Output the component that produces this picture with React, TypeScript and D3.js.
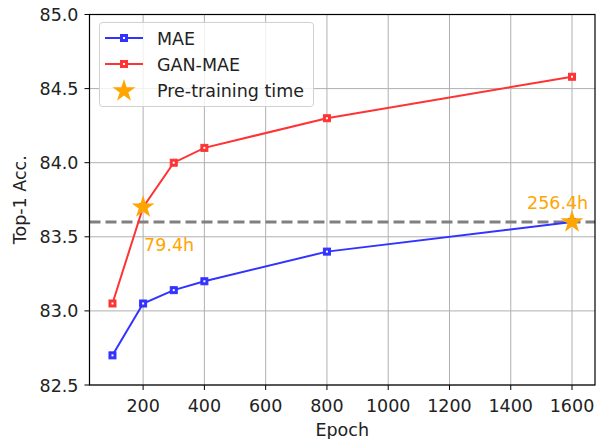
import React from "react";
import * as d3 from "d3";

const epochs = [100, 200, 300, 400, 800, 1600];
const maeAcc = [82.7, 83.05, 83.14, 83.2, 83.4, 83.6];
const ganMaeAcc = [83.05, 83.7, 84.0, 84.1, 84.3, 84.58];
const xTicks = [200, 400, 600, 800, 1000, 1200, 1400, 1600];
const yTicks = [82.5, 83.0, 83.5, 84.0, 84.5, 85.0];
const starPoints = [
  { epoch: 200, acc: 83.7, label: "79.4h" },
  { epoch: 1600, acc: 83.6, label: "256.4h" },
];
const refLine = 83.6;
const legendItems = ["MAE", "GAN-MAE", "Pre-training time"];

const W = 600, H = 439;
const L = 89.5, R = 595, T = 14.5, B = 385;
const BLUE = "#3333ff", RED = "#ff3333", ORANGE = "#ffa500";
const FONT = "DejaVu Sans, sans-serif";
const FS = 17.5;

function starPath(cx: number, cy: number, r: number) {
  const pts: string[] = [];
  const ri = r * 0.382;
  for (let i = 0; i < 10; i++) {
    const a = -Math.PI / 2 + (i * Math.PI) / 5;
    const rr = i % 2 === 0 ? r : ri;
    pts.push(`${cx + rr * Math.cos(a)},${cy + rr * Math.sin(a)}`);
  }
  return "M" + pts.join("L") + "Z";
}

function Marker({ cx, cy, color }: { cx: number; cy: number; color: string }) {
  return (
    <g>
      <rect x={cx - 3.5} y={cy - 3.5} width={7} height={7} fill={color} stroke={color} strokeWidth={1} />
      <rect x={cx - 1} y={cy - 1} width={2} height={2} fill="#fff" />
    </g>
  );
}

export default function App() {
  const x = d3.scaleLinear().domain([25, 1675]).range([L, R]);
  const y = d3.scaleLinear().domain([82.5, 85.0]).range([B, T]);
  const line = d3
    .line<number>()
    .x((_, i) => x(epochs[i]))
    .y((d) => y(d));

  const series = [
    { vals: maeAcc, color: BLUE },
    { vals: ganMaeAcc, color: RED },
  ];

  return (
    <svg width={W} height={H} style={{ position: "absolute", left: 0, top: 0, background: "#fff" }} fontFamily={FONT}>
      {/* grid */}
      {xTicks.map((t) => (
        <line key={"gx" + t} x1={x(t)} x2={x(t)} y1={T} y2={B} stroke="#b0b0b0" strokeWidth={1} />
      ))}
      {yTicks.map((t) => (
        <line key={"gy" + t} x1={L} x2={R} y1={y(t)} y2={y(t)} stroke="#b0b0b0" strokeWidth={1} />
      ))}
      {/* reference dashed line */}
      <line x1={L} x2={R} y1={y(refLine)} y2={y(refLine)} stroke="#808080" strokeWidth={3} strokeDasharray="11,5" />
      {/* series */}
      {series.map((s, si) => (
        <g key={"s" + si}>
          <path d={line(s.vals) || ""} fill="none" stroke={s.color} strokeWidth={2} />
          {s.vals.map((v, i) => (
            <Marker key={i} cx={x(epochs[i])} cy={y(v)} color={s.color} />
          ))}
        </g>
      ))}
      {/* stars */}
      {starPoints.map((p, i) => (
        <path key={"st" + i} d={starPath(x(p.epoch), y(p.acc), 12)} fill={ORANGE} />
      ))}
      <text x={x(200) + 1} y={y(83.7) + 44} fill={ORANGE} fontSize={FS}>
        {starPoints[0].label}
      </text>
      <text x={x(1600) - 45} y={y(83.6) - 13} fill={ORANGE} fontSize={FS}>
        {starPoints[1].label}
      </text>
      {/* axes frame */}
      <rect x={L} y={T} width={R - L} height={B - T} fill="none" stroke="#000" strokeWidth={1.2} />
      {xTicks.map((t) => (
        <g key={"xt" + t}>
          <line x1={x(t)} x2={x(t)} y1={B} y2={B + 5} stroke="#000" strokeWidth={1} />
          <text x={x(t)} y={B + 27} textAnchor="middle" fontSize={FS} fill="#222">
            {t}
          </text>
        </g>
      ))}
      {yTicks.map((t) => (
        <g key={"yt" + t}>
          <line x1={L - 5} x2={L} y1={y(t)} y2={y(t)} stroke="#000" strokeWidth={1} />
          <text x={L - 11} y={y(t) + 6.5} textAnchor="end" fontSize={FS} fill="#222">
            {t.toFixed(1)}
          </text>
        </g>
      ))}
      <text x={(L + R) / 2} y={436} textAnchor="middle" fontSize={FS} fill="#222">
        Epoch
      </text>
      <text transform={`translate(26,${(T + B) / 2}) rotate(-90)`} textAnchor="middle" fontSize={FS} fill="#222">
        Top-1 Acc.
      </text>
      {/* legend */}
      <rect x={99.5} y={22.5} width={214} height={84} rx={3} fill="#fff" fillOpacity={0.8} stroke="#d0d0d0" strokeWidth={1} />
      {legendItems.map((name, i) => {
        const cy = 38 + i * 26;
        return (
          <g key={"lg" + i}>
            {i < 2 ? (
              <>
                <line x1={105} x2={143} y1={cy} y2={cy} stroke={i === 0 ? BLUE : RED} strokeWidth={2} />
                <Marker cx={124} cy={cy} color={i === 0 ? BLUE : RED} />
              </>
            ) : (
              <path d={starPath(124, cy + 1, 12)} fill={ORANGE} />
            )}
            <text x={157} y={cy + 6.5} fontSize={FS} fill="#222">
              {name}
            </text>
          </g>
        );
      })}
    </svg>
  );
}
